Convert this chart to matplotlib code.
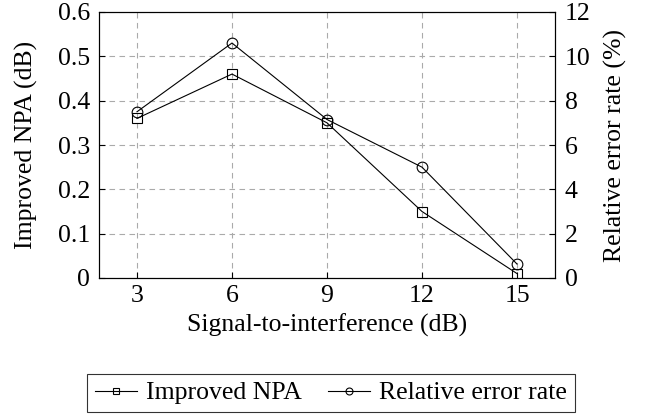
import matplotlib.pyplot as plt
import numpy as np
from matplotlib.lines import Line2D

plt.rcParams['font.family'] = ['Liberation Serif', 'DejaVu Serif']

# data
sir = [3, 6, 9, 12, 15]
npa = [0.36, 0.46, 0.35, 0.15, 0.01]
err_rate = [7.5, 10.6, 7.15, 5.0, 0.63]

FS = 18.5

fig = plt.figure(figsize=(6.46, 4.17), dpi=100)
ax = fig.add_axes([99/646, 1 - 278/417, (555-99)/646, (278-12)/417])

ax.plot(sir, npa, color='black', lw=0.8, marker='s', ms=7.7, mfc='none', mew=0.8)
ax.set_xlim(1.8, 16.2)
ax.set_ylim(0, 0.6)
ax.set_xticks(sir)
ax.set_yticks([0, 0.1, 0.2, 0.3, 0.4, 0.5, 0.6])
ax.set_yticklabels(['0', '0.1', '0.2', '0.3', '0.4', '0.5', '0.6'])
ax.grid(True, color='#aaaaaa', ls=(0, (5, 4)), lw=0.8)
ax.tick_params(direction='in', labelsize=FS, length=4, pad=6.5)
ax.tick_params(axis='x', pad=5)
ax.set_xlabel('Signal-to-interference (dB)', fontsize=FS, labelpad=5)
ax.set_ylabel('Improved NPA (dB)', fontsize=FS, labelpad=14)

ax2 = ax.twinx()
ax2.plot(sir, err_rate, color='black', lw=0.8, marker='o', ms=7.7, mfc='none', mew=0.8)
ax2.set_ylim(0, 12)
ax2.set_yticks([0, 2, 4, 6, 8, 10, 12])
ax2.tick_params(direction='in', labelsize=FS, length=4, pad=7)
ax2.set_ylabel('Relative error rate (%)', fontsize=FS, labelpad=10)

handles = [
    Line2D([], [], color='black', lw=0.8, marker='s', ms=5, mfc='none', mew=0.8),
    Line2D([], [], color='black', lw=0.8, marker='o', ms=5, mfc='none', mew=0.8),
]
leg = fig.legend(handles, ['Improved NPA', 'Relative error rate'], ncol=2,
                 loc='center', bbox_to_anchor=(331/646, 1 - 393/417),
                 fontsize=FS, frameon=True, fancybox=False, edgecolor='black',
                 handlelength=1.65, handletextpad=0.35, columnspacing=1.0,
                 borderpad=0.3, borderaxespad=0)
leg.get_frame().set_linewidth(0.8)

plt.savefig('out.png', dpi=100)
